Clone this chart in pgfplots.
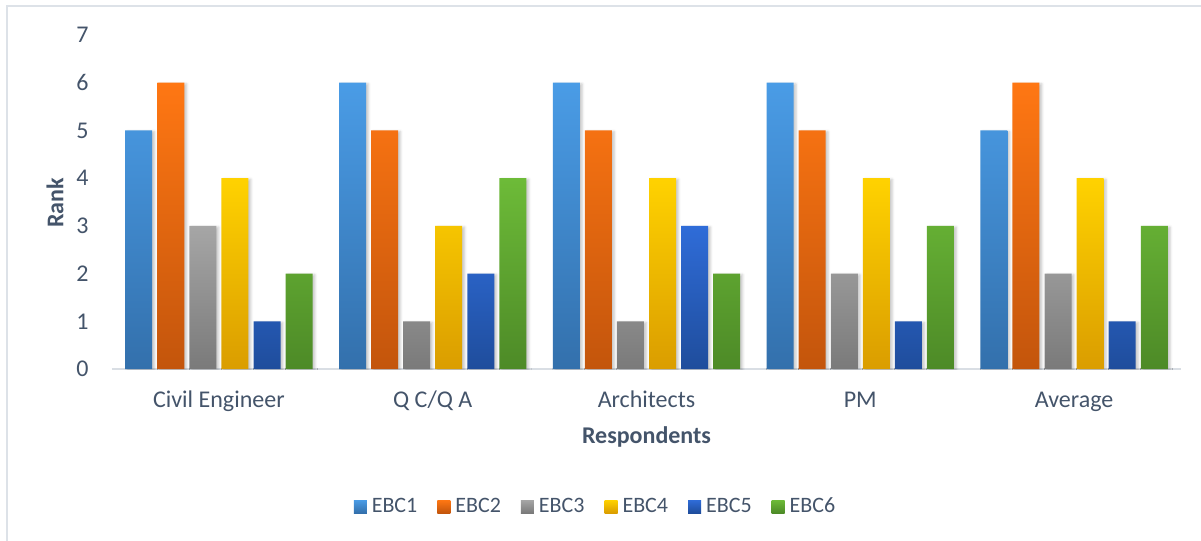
\documentclass[border=0pt]{standalone}
\usepackage{pgfplots}
\pgfplotsset{compat=1.18}
\usepackage{fontspec}
\setmainfont{Carlito}
\usetikzlibrary{shadows.blur}

\definecolor{txt}{HTML}{44546A}
\definecolor{frame}{HTML}{DDE2E8}
\definecolor{axisln}{HTML}{D9DEE4}
\definecolor{aT}{HTML}{4A9CE6}\definecolor{aB}{HTML}{3370AC}
\definecolor{bT}{HTML}{FF7713}\definecolor{bB}{HTML}{C3550C}
\definecolor{cT}{HTML}{A6A6A6}\definecolor{cB}{HTML}{7A7A7A}
\definecolor{dT}{HTML}{FFD200}\definecolor{dB}{HTML}{DA9D00}
\definecolor{eT}{HTML}{2F6CD8}\definecolor{eB}{HTML}{1F4D9C}
\definecolor{fT}{HTML}{6DBB38}\definecolor{fB}{HTML}{4D8A27}

\pgfplotsset{
  barbase/.style={draw=none, bar width=0.1263,
    blur shadow={shadow xshift=1.2pt, shadow yshift=-0.6pt,
      shadow blur radius=1.2pt, shadow opacity=22}},
  legsq/.style={legend image code/.code={%
    \path[##1, draw=none] (0pt,-3.25pt) rectangle (6.5pt,3.25pt);}},
}

\begin{document}
\begin{tikzpicture}
\path[use as bounding box] (-56pt,-86pt) rectangle (544.5pt,184.5pt);
\draw[frame, line width=1pt] (-52.5pt,-90pt) -- (-52.5pt,181.25pt) -- (550pt,181.25pt);
\begin{axis}[
  at={(0pt,0pt)}, anchor=south west,
  scale only axis, width=534.5pt, height=167pt,
  ybar, xmin=-0.5, xmax=4.5, ymin=0, ymax=7,
  ytick={0,1,...,7},
  xtick={0,1,2,3,4},
  xticklabels={Civil Engineer, Q C/Q A, Architects, PM, Average},
  major tick length=0pt,
  separate axis lines,
  axis x line*=bottom, axis y line*=left,
  x axis line style={-, draw=axisln, line width=1pt},
  y axis line style={draw=none},
  /pgf/number format/assume math mode=true,
  tick label style={font=\fontsize{12}{14}\selectfont, text=txt},
  yticklabel style={anchor=east, inner sep=0pt, xshift=-11.5pt},
  xticklabel style={anchor=base, inner sep=0pt, yshift=-19pt},
  legend columns=6,
  legend style={at={(axis description cs:0.4514,-0.4117)}, anchor=center,
    draw=none, fill=none, font=\fontsize{11}{13}\selectfont, text=txt,
    nodes={inner sep=0pt},
    /tikz/every odd column/.append style={column sep=2.5pt},
    /tikz/every even column/.append style={column sep=10pt}},
]
% legend entries
\addlegendimage{legsq, top color=aT, bottom color=aB}\addlegendentry{EBC1}
\addlegendimage{legsq, top color=bT, bottom color=bB}\addlegendentry{EBC2}
\addlegendimage{legsq, top color=cT, bottom color=cB}\addlegendentry{EBC3}
\addlegendimage{legsq, top color=dT, bottom color=dB}\addlegendentry{EBC4}
\addlegendimage{legsq, top color=eT, bottom color=eB}\addlegendentry{EBC5}
\addlegendimage{legsq, top color=fT, bottom color=fB}\addlegendentry{EBC6}
% bars: ranks per respondent group
\addplot[barbase, forget plot, bar shift=-0.375, top color=aT, bottom color=aB]
  coordinates {(0,5) (1,6) (2,6) (3,6) (4,5)};
\addplot[barbase, forget plot, bar shift=-0.225, top color=bT, bottom color=bB]
  coordinates {(0,6) (1,5) (2,5) (3,5) (4,6)};
\addplot[barbase, forget plot, bar shift=-0.075, top color=cT, bottom color=cB]
  coordinates {(0,3) (1,1) (2,1) (3,2) (4,2)};
\addplot[barbase, forget plot, bar shift=0.075, top color=dT, bottom color=dB]
  coordinates {(0,4) (1,3) (2,4) (3,4) (4,4)};
\addplot[barbase, forget plot, bar shift=0.225, top color=eT, bottom color=eB]
  coordinates {(0,1) (1,2) (2,3) (3,1) (4,1)};
\addplot[barbase, forget plot, bar shift=0.375, top color=fT, bottom color=fB]
  coordinates {(0,2) (1,4) (2,2) (3,3) (4,3)};
\end{axis}
\node[font=\bfseries\fontsize{12}{14}\selectfont, text=txt, anchor=base] at (267.25pt,-37pt) {Respondents};
\node[font=\bfseries\fontsize{12}{14}\selectfont, text=txt, rotate=90, anchor=center] at (-28.5pt,83pt) {Rank};
\end{tikzpicture}
\end{document}
